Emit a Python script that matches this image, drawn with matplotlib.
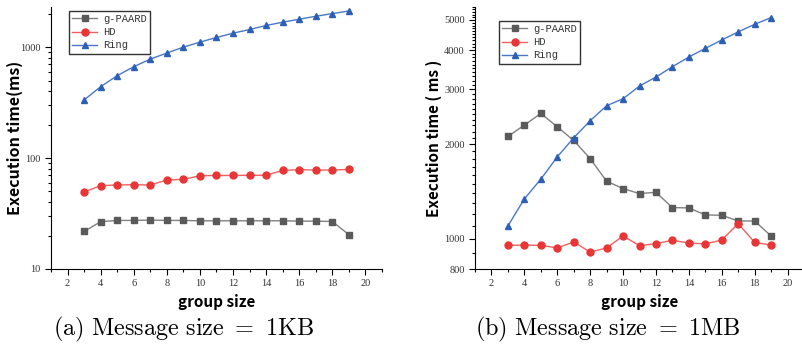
import numpy as np
import matplotlib
matplotlib.use('Agg')
import matplotlib.pyplot as plt
from matplotlib.ticker import FixedLocator, MultipleLocator, LogLocator, NullFormatter, FuncFormatter

plt.rcParams['mathtext.fontset'] = 'cm'

group = list(range(3, 20))

# (a) message size = 1KB
kb_paard = [21.8, 26.7, 27.4, 27.4, 27.6, 27.4, 27.4, 27.2, 27.2, 27.2, 27.2, 27.2, 27.2, 27.0, 27.0, 26.8, 20.4]
kb_hd = [49.4, 56.4, 57.2, 57.5, 57.2, 63.4, 64.3, 69.3, 69.7, 69.7, 70.0, 70.0, 77.4, 78.5, 78.0, 78.0, 79.0]
kb_ring = [334, 440, 553, 666, 780, 884, 1000, 1109, 1222, 1336, 1442, 1567, 1678, 1784, 1898, 2005, 2119]

# (b) message size = 1MB
mb_paard = [2121, 2306, 2513, 2278, 2060, 1803, 1526, 1446, 1393, 1407, 1257, 1254, 1191, 1188, 1139, 1139, 1020]
mb_hd = [952, 954, 952, 934, 976, 906, 934, 1020, 950, 964, 988, 969, 962, 990, 1117, 973, 954]
mb_ring = [1098, 1340, 1549, 1826, 2100, 2382, 2660, 2800, 3075, 3285, 3545, 3806, 4056, 4315, 4580, 4842, 5088]

names = ['g-PAARD', 'HD', 'Ring']
captions = [r'$\mathrm{(a)\ Message\ size}\ =\ \mathrm{1KB}$', r'$\mathrm{(b)\ Message\ size}\ =\ \mathrm{1MB}$']

styles = [
    dict(color='#808080', marker='s', mfc='#5a5a5a', mec='#5a5a5a'),
    dict(color='#f06060', marker='o', mfc='#e83535', mec='#e83535'),
    dict(color='#4a78c8', marker='^', mfc='#2c5fb5', mec='#2c5fb5'),
]

fig = plt.figure(figsize=(8.03, 3.57), dpi=100)
W, H = 803, 357

def px_axes(l, t, r, b):
    return fig.add_axes([l / W, 1 - b / H, (r - l) / W, (b - t) / H])

ax1 = px_axes(51, 7, 382, 269)
ax2 = px_axes(475, 7, 804, 269)

labfont = dict(family=['Noto Sans CJK SC', 'DejaVu Sans'], size=11.5, weight='bold')

for ax, data in [(ax1, [kb_paard, kb_hd, kb_ring]), (ax2, [mb_paard, mb_hd, mb_ring])]:
    for name, vals, st in zip(names, data, styles):
        ax.plot(group, vals, lw=1.0, ms=5, label=name, **st)
    ax.set_yscale('log')
    ax.set_xlim(1, 21)
    ax.spines['top'].set_visible(False)
    ax.spines['right'].set_visible(False)
    ax.xaxis.set_major_locator(MultipleLocator(2))
    ax.xaxis.set_minor_locator(MultipleLocator(1))
    ax.tick_params(which='both', direction='out', width=0.8, labelsize=7.5, colors='black')
    ax.tick_params(which='major', length=4)
    ax.tick_params(which='minor', length=2)
    ax.set_xlabel('group size', fontdict=dict(labfont, size=11), labelpad=4)

ax1.set_ylim(10, 2300)
ax1.yaxis.set_major_locator(FixedLocator([10, 100, 1000]))
ax1.yaxis.set_minor_locator(LogLocator(base=10, subs=np.arange(2, 10)))
ax1.yaxis.set_minor_formatter(NullFormatter())
ax1.yaxis.set_major_formatter(FuncFormatter(lambda v, p: '%d' % v))
ax1.set_ylabel('Execution time(ms)', fontdict=labfont)
ax1.yaxis.set_label_coords((15 - 51) / 331, 0.5)

ax2.set_ylim(800, 5500)
ax2.yaxis.set_major_locator(FixedLocator([800, 1000, 2000, 3000, 4000, 5000]))
ax2.yaxis.set_minor_locator(MultipleLocator(100))
ax2.yaxis.set_minor_formatter(NullFormatter())
ax2.yaxis.set_major_formatter(FuncFormatter(lambda v, p: '%d' % v))
ax2.set_ylabel('Execution time ( ms )', fontdict=dict(labfont, size=11))
ax2.yaxis.set_label_coords((434 - 475) / 329, 0.5)

for ax in (ax1, ax2):
    ax.yaxis.label.set_va('center')
    for lab in ax.get_xticklabels() + ax.get_yticklabels():
        lab.set_fontfamily('Liberation Serif')
        lab.set_color('#333333')

leg_kw = dict(prop=dict(family='Liberation Mono', size=7.5), frameon=True, fancybox=False,
              edgecolor='black', handlelength=2.4, borderpad=0.3, labelspacing=0.3,
              handletextpad=0.6, borderaxespad=0)
l1 = ax1.legend(loc='upper left', bbox_to_anchor=((69 - 51) / 331, (269 - 11) / 262), **leg_kw)
l2 = ax2.legend(loc='upper left', bbox_to_anchor=((499 - 475) / 329, (269 - 21) / 262), **leg_kw)
for l in (l1, l2):
    l.get_frame().set_linewidth(1.0)
    for t in l.get_texts():
        t.set_color('#333333')

fig.text(183 / W, 1 - 329 / H, captions[0], ha='center', va='center', fontsize=17.5)
fig.text(608 / W, 1 - 329 / H, captions[1], ha='center', va='center', fontsize=17.5)

fig.savefig('out.png', dpi=100)
